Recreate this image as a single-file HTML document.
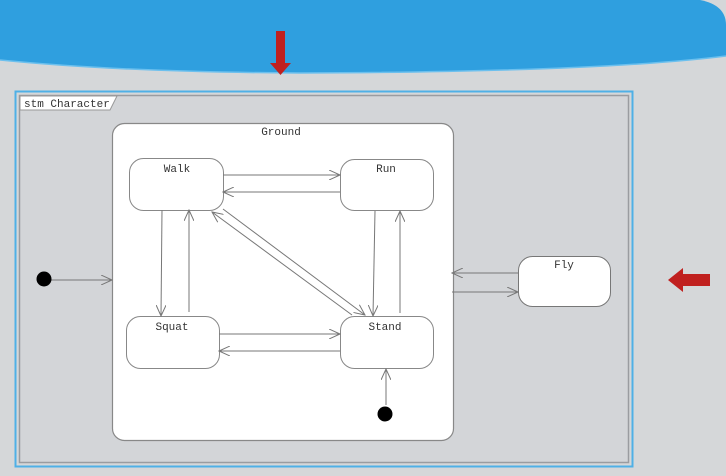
<!DOCTYPE html>
<html><head><meta charset="utf-8"><style>
html,body{margin:0;padding:0;width:726px;height:476px;overflow:hidden;background:#d5d7d9;}
svg{display:block}
text{font-family:"Liberation Mono",monospace;font-size:11px;fill:#333}
</style></head><body>
<svg width="726" height="476" viewBox="0 0 726 476" xmlns="http://www.w3.org/2000/svg">
<defs>
<marker id="a" markerWidth="12" markerHeight="10" refX="11" refY="5" orient="auto" markerUnits="userSpaceOnUse">
<path d="M0,0 L11,5 L0,10" fill="none" stroke="#777" stroke-width="1"/></marker>
</defs>
<rect width="726" height="476" fill="#d5d7d9"/>
<!-- blue header -->
<path d="M0,0 H700 Q726,5 726,25 V56 Q600,72 300,73 Q120,72 0,60 Z" fill="#2f9fdf"/>
<path d="M0,60 Q120,72 300,73 Q600,72 726,56" fill="none" stroke="#6cc0ee" stroke-width="1.5"/>
<!-- red down arrow -->
<rect x="276" y="31" width="9" height="35" fill="#c0201f"/>
<path d="M270,63 L291,63 L280.5,75 Z" fill="#c0201f"/>
<!-- red left arrow -->
<rect x="682" y="274" width="28" height="12" fill="#c0201f"/>
<path d="M683,268 L683,292 L668,280 Z" fill="#c0201f"/>
<!-- outer frames -->
<rect x="15.5" y="91.5" width="617" height="375" fill="none" stroke="#4fb0e6" stroke-width="2"/>
<rect x="19.5" y="95.5" width="609" height="367" fill="#d3d5d8" stroke="#9a9ca0" stroke-width="1.5"/>
<path d="M20,96 H117 L110,110 H20 Z" fill="#fff" stroke="#999" stroke-width="1"/>
<text x="24" y="107" font-size="10">stm Character</text>
<!-- Ground -->
<rect x="112.5" y="123.5" width="341" height="317" rx="12" fill="#fff" stroke="#888" stroke-width="1.2"/>
<text x="281" y="135" text-anchor="middle">Ground</text>
<!-- states -->
<g fill="#fff" stroke="#888" stroke-width="1">
<rect x="129.5" y="158.5" width="94" height="52" rx="14"/>
<rect x="340.5" y="159.5" width="93" height="51" rx="14"/>
<rect x="126.5" y="316.5" width="93" height="52" rx="14"/>
<rect x="340.5" y="316.5" width="93" height="52" rx="14"/>
<rect x="518.5" y="256.5" width="92" height="50" rx="14" stroke="#777"/>
</g>
<text x="177" y="172" text-anchor="middle">Walk</text>
<text x="386" y="172" text-anchor="middle">Run</text>
<text x="172" y="330" text-anchor="middle">Squat</text>
<text x="385" y="330" text-anchor="middle">Stand</text>
<text x="564" y="268" text-anchor="middle">Fly</text>
<!-- transitions -->
<g stroke="#777" stroke-width="1" fill="none" marker-end="url(#a)">
<line x1="223" y1="175" x2="340" y2="175"/>
<line x1="340" y1="192" x2="223" y2="192"/>
<line x1="162" y1="210" x2="161" y2="316"/>
<line x1="189" y1="312" x2="189" y2="210"/>
<line x1="219" y1="334" x2="340" y2="334"/>
<line x1="340" y1="351" x2="219" y2="351"/>
<line x1="375" y1="211" x2="373" y2="316"/>
<line x1="400" y1="313" x2="400" y2="211"/>
<line x1="223" y1="209" x2="365" y2="315"/>
<line x1="352" y1="315" x2="212" y2="212"/>
<line x1="386" y1="405" x2="386" y2="369"/>
<line x1="45" y1="280" x2="112" y2="280"/>
<line x1="518" y1="273" x2="452" y2="273"/>
<line x1="452" y1="292" x2="518" y2="292"/>
</g>
<circle cx="385" cy="414" r="7.5" fill="#000"/>
<circle cx="44" cy="279" r="7.5" fill="#000"/>
</svg>
</body></html>
